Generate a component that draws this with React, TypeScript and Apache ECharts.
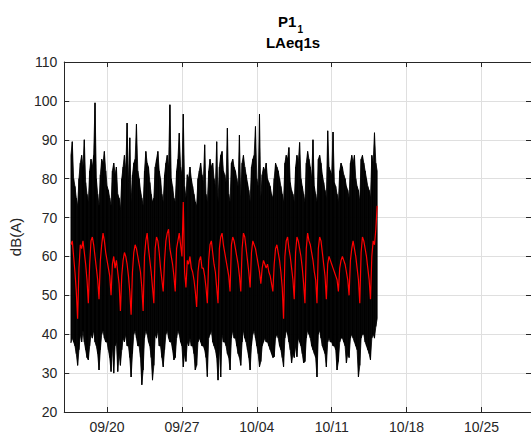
import React, { useEffect, useRef } from "react";
import * as echarts from "echarts";

// Time base: day 0 = 09/16 00:00, values in 3-hour bins (8 per day row)
const START_YEAR = 2019;
const START_MONTH = 8; // September (0-based)
const START_DAY = 16;
const BIN_HOURS = 3;
const X_MIN = 0;
const X_MAX = 43.63;
const X_TICK_DAYS = [4, 11, 18, 25, 32, 39];
const Y_MIN = 20;
const Y_MAX = 110;
const Y_STEP = 10;

const TITLE_MAIN = "P1";
const TITLE_SUB = "1";
const SUBTITLE = "LAeq1s";
const Y_NAME = "dB(A)";

const N = null;

// Red: smoothed level
const RED_ROWS: (number | null)[][] = [
  [N, N, N, N, N, 63, 64, 60],
  [56, 51, 44, 57, 63, 62, 64, 61],
  [58, 54, 48, 58, 64, 65, 63, 60],
  [57, 54, 49, 59, 63, 66, 64, 61],
  [59, 57, 55, 50, 58, 60, 57, 59],
  [56, 53, 46, 55, 59, 61, 60, 58],
  [55, 51, 45, 56, 61, 63, 62, 60],
  [58, 56, 52, 46, 60, 64, 66, 62],
  [59, 56, 52, 48, 62, 65, 64, 61],
  [57, 54, 51, 59, 64, 66, 67, 62],
  [60, 58, 55, 51, 62, 64, 66, 63],
  [60, 74, 56, 52, 59, 58, 60, 57],
  [56, 54, 51, 47, 56, 59, 60, 57],
  [57, 55, 52, 48, 59, 63, 64, 61],
  [58, 56, 52, 48, 62, 65, 66, 63],
  [61, 59, 57, 55, 51, 63, 65, 64],
  [62, 60, 58, 55, 51, 62, 66, 65],
  [62, 59, 56, 52, 61, 64, 63, 62],
  [60, 58, 56, 53, 57, 59, 58, 57],
  [58, 56, 55, 53, 51, 58, 62, 63],
  [61, 59, 56, 52, 44, 60, 64, 65],
  [62, 60, 57, 54, 49, 61, 65, 64],
  [62, 60, 57, 53, 48, 62, 66, 64],
  [63, 61, 59, 56, 54, 48, 62, 65],
  [64, 61, 58, 55, 49, 58, 60, 59],
  [58, 57, 56, 55, 54, 51, 57, 59],
  [60, 59, 58, 56, 54, 50, 59, 62],
  [64, 62, 60, 57, 54, 48, 61, 65],
  [64, 62, 60, 57, 54, 49, 60, 64],
  [63, 67, 73, N, N, N, N, N],
];

// Black: 1 s data envelope (max per bin)
const MAX_ROWS: (number | null)[][] = [
  [N, N, N, N, N, 86, 89.5, 80],
  [78, 75, 73, 80, 84, 86, 83, 90],
  [79, 76, 74, 82, 85, 83, 86, 99.5],
  [80, 76, 73, 81, 85, 84, 87, 82],
  [78, 77, 75, 73, 82, 84, 81, 83],
  [76, 75, 72, 80, 83, 86, 82, 94.3],
  [79, 90.5, 74, 81, 84, 85, 94, 82],
  [80, 77, 75, 73, 82, 87, 84, 83],
  [79, 76, 74, 75, 83, 85, 87, 82],
  [80, 76, 74, 81, 84, 86, 83, 99],
  [80, 78, 75, 74, 82, 85, 91.7, 83],
  [81, 96.6, 78, 75, 81, 80, 83, 80],
  [78, 76, 74, 73, 80, 82, 84, 81],
  [79, 88.7, 76, 74, 82, 85, 83, 84],
  [80, 78, 89.5, 74, 83, 86, 87, 82],
  [81, 79, 93, 76, 74, 84, 85, 83],
  [82, 80, 78, 91.2, 75, 84, 86, 83],
  [81, 79, 77, 74, 83, 85, 86, 93.4],
  [80, 78, 96.6, 75, 81, 83, 82, 84],
  [80, 79, 78, 76, 75, 80, 84, 83],
  [82, 80, 78, 76, 74, 84, 86, 85],
  [88, 79, 77, 76, 74, 83, 86, 84],
  [89.3, 80, 78, 76, 74, 84, 87, 85],
  [83, 80, 90, 78, 76, 74, 85, 86],
  [84, 81, 79, 77, 75, 92.3, 83, 82],
  [81, 92, 79, 78, 76, 74, 82, 84],
  [83, 81, 80, 78, 77, 75, 84, 86],
  [84, 86, 80, 78, 77, 74, 85, 86],
  [84, 82, 80, 78, 77, 75, 86, 84],
  [91.8, 84, 82, N, N, N, N, N],
];

// Black: 1 s data envelope (min per bin)
const MIN_ROWS: (number | null)[][] = [
  [N, N, N, N, N, 37.8, 39, 38],
  [37, 35, 32, 36, 40, 38, 41, 38],
  [36, 34, 33.4, 37, 40, 39, 41, 38],
  [37, 35, 30.8, 36, 40, 41, 39, 38],
  [38, 36, 34, 30.4, 37, 30, 37, 38],
  [30.4, 35, 32, 36, 39, 38, 40, 37],
  [37, 34, 29, 35, 40, 41, 39, 37],
  [37, 34, 27, 30.8, 39, 41, 40, 38],
  [37, 34, 28.2, 32, 40, 39, 41, 37],
  [37, 34, 31.6, 36, 40, 41, 39, 38],
  [38, 36, 33.4, 34, 39, 41, 40, 38],
  [37, 31.6, 35, 33, 38, 37, 39, 37],
  [37, 35, 30.8, 32, 38, 39, 38, 37],
  [37, 36, 34, 29.1, 39, 40, 41, 38],
  [37, 36, 34, 28.2, 37, 29, 40, 38],
  [38, 37, 35, 34, 30.8, 39, 41, 39],
  [39, 37, 35, 34, 32, 38, 41, 39],
  [38, 36, 34, 30.8, 37, 40, 41, 39],
  [37, 35, 31.6, 33, 37, 38, 39, 38],
  [38, 37, 36, 35, 34, 34.2, 39, 40],
  [39, 37, 36, 34, 31.6, 39, 41, 40],
  [38, 36, 32.6, 35, 34, 37, 34.2, 39],
  [38, 37, 35, 32.6, 33, 39, 41, 40],
  [39, 37, 36, 35, 34, 29, 40, 41],
  [39, 37, 36, 35, 31.6, 38, 39, 38],
  [38, 37, 37, 36, 30.8, 33, 38, 39],
  [39, 38, 37, 32.6, 35, 34, 39, 40],
  [39, 38, 37, 36, 29, 32, 39, 40],
  [40, 38, 37, 36, 35, 33.4, 39, 40],
  [39, 42, 44, N, N, N, N, N],
];

function flatten(rows: (number | null)[][]): [number, number][] {
  const out: [number, number][] = [];
  rows.forEach((row, d) => {
    row.forEach((v, b) => {
      if (v !== null && v !== undefined) out.push([d + (b * BIN_HOURS) / 24, v]);
    });
  });
  return out;
}

function fmtDay(v: number): string {
  const dt = new Date(START_YEAR, START_MONTH, START_DAY + Math.round(v));
  const mm = String(dt.getMonth() + 1).padStart(2, "0");
  const dd = String(dt.getDate()).padStart(2, "0");
  return mm + "/" + dd;
}

const FONT = "'Liberation Sans', Arial, Helvetica, sans-serif";
const AXIS_COLOR = "#262626";
const GRID_COLOR = "#dfdfdf";

export default function App() {
  const ref = useRef<HTMLDivElement>(null);
  useEffect(() => {
    if (!ref.current) return;
    const chart = echarts.init(ref.current, undefined, { renderer: "svg" });
    const red = flatten(RED_ROWS);
    const mx = flatten(MAX_ROWS);
    const mn = flatten(MIN_ROWS);
    // segments between consecutive bins: [x0, min0, max0, x1, min1, max1]
    const segs: number[][] = [];
    for (let i = 0; i < mx.length - 1; i++) {
      segs.push([mx[i][0], mn[i][1], mx[i][1], mx[i + 1][0], mn[i + 1][1], mx[i + 1][1]]);
    }

    const baseX = {
      type: "value" as const,
      min: X_MIN,
      max: X_MAX,
      axisLine: { show: true, onZero: false, lineStyle: { color: AXIS_COLOR, width: 1 } },
      axisTick: { show: true, inside: true, length: 5, customValues: X_TICK_DAYS, lineStyle: { color: AXIS_COLOR } },
    };
    const baseY = {
      type: "value" as const,
      min: Y_MIN,
      max: Y_MAX,
      interval: Y_STEP,
      axisLine: { show: true, onZero: false, lineStyle: { color: AXIS_COLOR, width: 1 } },
      axisTick: { show: true, inside: true, length: 5, lineStyle: { color: AXIS_COLOR } },
    };

    chart.setOption({
      animation: false,
      backgroundColor: "#ffffff",
      grid: { left: 63, top: 62, width: 469, height: 350 },
      xAxis: [
        {
          ...baseX,
          position: "bottom",
          axisLabel: {
            customValues: X_TICK_DAYS,
            formatter: (v: number) => fmtDay(v),
            color: AXIS_COLOR,
            fontSize: 14,
            fontFamily: FONT,
            margin: 8,
          },
          splitLine: { show: true, lineStyle: { color: GRID_COLOR, width: 1 } },
        },
        {
          ...baseX,
          position: "top",
          axisLabel: { show: false },
          splitLine: { show: false },
        },
      ],
      yAxis: [
        {
          ...baseY,
          position: "left",
          name: Y_NAME,
          nameLocation: "middle",
          nameGap: 33,
          nameTextStyle: { color: AXIS_COLOR, fontSize: 15, fontFamily: FONT },
          axisLabel: { color: AXIS_COLOR, fontSize: 14, fontFamily: FONT, margin: 7 },
          splitLine: { show: true, lineStyle: { color: GRID_COLOR, width: 1 } },
        },
        {
          ...baseY,
          position: "right",
          axisLabel: { show: false },
          splitLine: { show: false },
        },
      ],
      series: [
        {
          type: "custom",
          data: segs,
          encode: { x: [0, 3], y: [1, 2, 4, 5] },
          silent: true,
          clip: true,
          z: 2,
          renderItem: (params: any, api: any) => {
            const p1 = api.coord([api.value(0), api.value(2)]);
            const p2 = api.coord([api.value(3), api.value(5)]);
            const p3 = api.coord([api.value(3), api.value(4)]);
            const p4 = api.coord([api.value(0), api.value(1)]);
            return {
              type: "polygon",
              shape: { points: [p1, p2, p3, p4] },
              style: { fill: "#000000", stroke: "#000000", lineWidth: 0.8 },
            };
          },
        },
        {
          type: "line",
          data: red,
          symbol: "none",
          lineStyle: { color: "#ff0000", width: 1.2 },
          silent: true,
          z: 3,
        },
      ],
      graphic: [
        {
          type: "text",
          x: 278,
          y: 21.5,
          style: { text: TITLE_MAIN, font: `bold 15px ${FONT}`, fill: "#000", textAlign: "left", textVerticalAlign: "middle" },
        },
        {
          type: "text",
          x: 297.5,
          y: 29,
          style: { text: TITLE_SUB, font: `bold 10px ${FONT}`, fill: "#000", textAlign: "left", textVerticalAlign: "middle" },
        },
        {
          type: "text",
          x: 293,
          y: 42.5,
          style: { text: SUBTITLE, font: `bold 15px ${FONT}`, fill: "#000", textAlign: "center", textVerticalAlign: "middle" },
        },
      ],
    });
    return () => chart.dispose();
  }, []);
  return (
    <div
      ref={ref}
      style={{ position: "fixed", left: 0, top: 0, width: 531, height: 435, background: "#fff" }}
    />
  );
}
